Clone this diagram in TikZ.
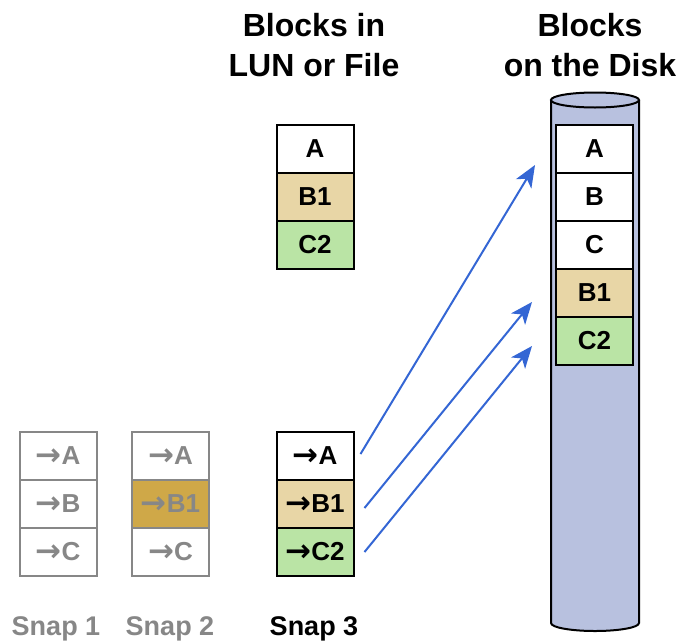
\documentclass[tikz,border=0pt]{standalone}
\usepackage{fontspec}
\setmainfont{Liberation Sans}
\newfontfamily\arrowfont{DejaVu Sans}
\newcommand{\ptr}{{\arrowfont\bfseries\fontsize{31}{31}\selectfont\raisebox{-1.5pt}{→}}}
\usetikzlibrary{arrows.meta}
\definecolor{tanfill}{RGB}{232,214,166}
\definecolor{greenfill}{RGB}{186,228,165}
\definecolor{goldfill}{RGB}{207,168,72}
\definecolor{diskfill}{RGB}{184,193,223}
\definecolor{linkblue}{RGB}{52,102,212}
\definecolor{dimgrey}{RGB}{135,135,135}
\tikzset{
  blk/.style={draw=black, line width=2pt, minimum width=77pt, minimum height=48pt,
    inner sep=0pt, font=\fontsize{26}{28}\selectfont\bfseries, text=black},
  oldblk/.style={blk, draw=dimgrey, text=dimgrey},
  title/.style={font=\fontsize{32}{40}\selectfont\bfseries, align=center},
  snaplabel/.style={font=\fontsize{27}{30}\selectfont\bfseries, anchor=base},
  link/.style={draw=linkblue, line width=2pt,
    -{Stealth[length=22pt,width=18pt,inset=6pt]}, fill=linkblue},
  disk/.style={draw=black, line width=2pt, fill=diskfill}
}
\begin{document}
\begin{tikzpicture}[x=1pt,y=-1pt]
\useasboundingbox (0,0) rectangle (684,643);

% column titles
\node[title] (tlun) at (314,45) {Blocks in\\LUN or File};
\node[title] (tdisk) at (590,45) {Blocks\\on the Disk};

% disk cylinder
\draw[disk] (551,100) -- (551,623) arc[start angle=180, end angle=0, x radius=44, y radius=8] -- (639,100);
\draw[disk] (595,100) ellipse[x radius=44, y radius=7.5];

% blocks stored on the disk
\node[blk, fill=white]     (da)  at (594.5,149) {A};
\node[blk, fill=white]     (db)  at (594.5,197) {B};
\node[blk, fill=white]     (dc)  at (594.5,245) {C};
\node[blk, fill=tanfill]   (db1) at (594.5,293) {B1};
\node[blk, fill=greenfill] (dc2) at (594.5,341) {C2};

% current blocks of the LUN or file
\node[blk, fill=white]     (la)  at (315,149) {A};
\node[blk, fill=tanfill]   (lb1) at (315,197) {B1};
\node[blk, fill=greenfill] (lc2) at (315,245) {C2};

% snapshot 1
\node[oldblk, fill=white] (s1a) at (58,456) {\ptr A};
\node[oldblk, fill=white] (s1b) at (58,504) {\ptr B};
\node[oldblk, fill=white] (s1c) at (58,552) {\ptr C};

% snapshot 2
\node[oldblk, fill=white]    (s2a)  at (170.5,456) {\ptr A};
\node[oldblk, fill=goldfill] (s2b1) at (170.5,504) {\ptr B1};
\node[oldblk, fill=white]    (s2c)  at (170.5,552) {\ptr C};

% snapshot 3
\node[blk, fill=white]     (s3a)  at (315,456) {\ptr A};
\node[blk, fill=tanfill]   (s3b1) at (315,504) {\ptr B1};
\node[blk, fill=greenfill] (s3c2) at (315,552) {\ptr C2};

% snapshot labels
\node[snaplabel, text=dimgrey] (l1) at (56,635) {Snap 1};
\node[snaplabel, text=dimgrey] (l2) at (170,635) {Snap 2};
\node[snaplabel, text=black]   (l3) at (314,635) {Snap 3};

% pointers from snapshot 3 towards the disk blocks
\coordinate (tipa)  at (535,165);
\coordinate (tipb1) at (532,302);
\coordinate (tipc2) at (532,346);
\draw[link] ([xshift=6pt,yshift=2pt]s3a.east)  -- (tipa);
\draw[link] ([xshift=10pt,yshift=-4pt]s3b1.east) -- (tipb1);
\draw[link] ([xshift=10pt]s3c2.east) -- (tipc2);
\end{tikzpicture}
\end{document}
